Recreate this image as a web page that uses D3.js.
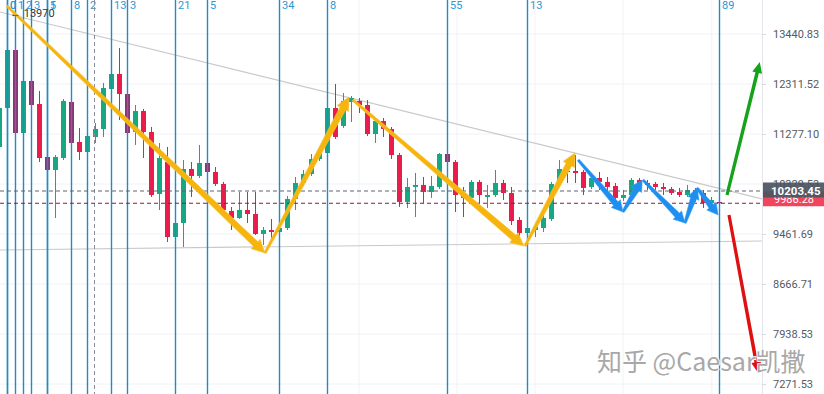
<!DOCTYPE html>
<html>
<head>
<meta charset="utf-8">
<script src="https://cdn.jsdelivr.net/npm/d3@7"></script>
<style>
  html, body { margin: 0; padding: 0; background: #fff; }
  svg { display: block; font-family: Roboto, "Noto Sans", sans-serif; }
</style>
</head>
<body>
<svg id="chart" width="824" height="394"></svg>
<script>
// candle data, first candle is bar index -1
const firstBar = -1;
const opens = [11023, 11804, 13069, 11297, 12377, 11887, 10831, 10587, 10812, 11929, 11120, 10926, 11218, 11377, 12204, 12530, 12097, 11317, 11742, 11317, 10150, 10737, 9412, 9646, 10605, 10476, 10718, 10550, 10330, 9852, 9731, 9869, 9800, 9462, 9528, 9495, 9562, 10062, 10348, 10513, 10793, 10907, 11804, 11437, 11929, 11950, 11866, 11277, 11537, 11377, 10869, 10009, 10276, 10312, 10186, 10276, 10888, 10737, 10168, 10080, 10367, 10097, 10132, 10348, 10168, 9697, 9478, 9528, 9562, 9714, 10348, 10568, 10568, 10550, 10276, 10439, 10367, 10294, 10080, 10132, 10403, 10348, 10330, 10276, 10240, 10186, 10132, 10222, 10168, 9991, 10009];
const highs = [11845, 13160, 13115, 12421, 12421, 12162, 10869, 10869, 11991, 11970, 11397, 11317, 11497, 12334, 12575, 13115, 12140, 11866, 11783, 11417, 11101, 11023, 9680, 10774, 10737, 11062, 10755, 10643, 10367, 9921, 10186, 10186, 10186, 9579, 9714, 9595, 10115, 10458, 10587, 10888, 11023, 11845, 12312, 12118, 12055, 12012, 11970, 11598, 11598, 11417, 10907, 10439, 10531, 10458, 10476, 10907, 10926, 10774, 10276, 10403, 10403, 10312, 10587, 10403, 10276, 9748, 9595, 9629, 9817, 10367, 10774, 10718, 10869, 10587, 10476, 10550, 10458, 10348, 10222, 10439, 10439, 10403, 10367, 10348, 10276, 10258, 10312, 10258, 10222, 10097, 10027];
const lows = [10965, 11763, 11258, 11258, 11825, 10737, 10550, 9731, 10774, 11062, 10774, 10888, 11101, 11218, 12162, 11558, 11258, 11062, 10812, 10097, 9869, 9330, 9363, 9248, 10097, 10439, 10513, 10294, 9835, 9528, 9714, 9646, 9445, 9281, 9396, 9462, 9528, 9869, 10294, 10476, 10755, 10869, 11179, 11397, 11517, 11700, 11238, 11101, 11218, 10793, 9921, 9904, 9748, 9991, 10080, 10240, 10699, 9835, 9748, 10044, 9991, 9904, 10097, 10044, 9612, 9428, 9428, 9412, 9495, 9680, 10312, 10348, 10348, 10132, 10240, 10222, 10168, 10009, 10027, 10097, 10222, 10222, 10222, 10132, 10132, 10097, 10097, 10009, 9904, 9956, 9956];
const closes = [11804, 13069, 11297, 12377, 11866, 10812, 10587, 10831, 11950, 11101, 10926, 11238, 11377, 12225, 12530, 12097, 11297, 11742, 11317, 10132, 10812, 9412, 9646, 10605, 10476, 10718, 10550, 10330, 9869, 9731, 9869, 9800, 9462, 9528, 9495, 9562, 10062, 10348, 10513, 10793, 10907, 11804, 11218, 11950, 12012, 11866, 11277, 11537, 11377, 10869, 10009, 10276, 10312, 10186, 10294, 10888, 10737, 10132, 10080, 10367, 10132, 10132, 10348, 10168, 9680, 9478, 9562, 9579, 9731, 10330, 10605, 10550, 10531, 10258, 10439, 10367, 10276, 10080, 10132, 10403, 10348, 10312, 10276, 10240, 10168, 10132, 10222, 10080, 9991, 10044, 9986.28];

const priceTicks = [13440.83, 12311.52, 11277.10, 10329.53, 9461.69, 8666.71, 7938.53, 7271.53];
const fibLevels = [0, 1, 2, 3, 5, 8, 13, 21, 34, 55, 89];
const fibLevelsWide = [0, 1, 2, 3, 5, 8, 13];
const fibStartBar = 0;
const fibUnitWide = 5;
const vGridBars = [44, 56.25, 66, 77, 88.1];
const crossBar = 11;
const lastPrice = 10203.45;
const markPrice = 9986.28;
const highMark = 13970;

// drawings: [bar1, price1, bar2, price2]
const trendLines = [[-0.875, 13971, 94.375, 10062], [-0.875, 9200, 94.375, 9346]];
const yellowArrows = [[0, 14118, 32.25, 9151], [32.25, 9151, 42.75, 12033], [43.25, 11970, 64.6, 9264], [64.75, 9264, 71, 10907]];
const blueArrows = [[71.4, 10774, 77, 9835], [77, 9835, 79.4, 10403], [79.5, 10403, 84.75, 9646], [84.75, 9646, 86.25, 10258], [86.25, 10258, 88.9, 9783]];
const greenArrow = [90, 10132, 94.1, 12797];
const redArrow = [90.25, 9783, 93.9, 7413];

const W = 824, H = 394, plotRight = 762;
const upColor = "#17a883", downColor = "#ea1c4c", onLineDown = "#a5286a";
const fibColor = "#1f8cc4";

const svg = d3.select("#chart");
const x = d3.scaleLinear().domain([0, 94.375]).range([7, plotRight]);
const y = d3.scaleLog().domain([7271.53, 13440.83]).range([384, 34]);

svg.append("defs").append("clipPath").attr("id", "plot")
  .append("rect").attr("x", 0).attr("y", 0).attr("width", plotRight).attr("height", H);

const plot = svg.append("g").attr("clip-path", "url(#plot)");

// grid
plot.selectAll(".hgrid").data(priceTicks).join("line")
  .attr("x1", 0).attr("x2", plotRight)
  .attr("y1", d => y(d)).attr("y2", d => y(d))
  .attr("stroke", "#f0f2f6").attr("stroke-width", 1);
plot.selectAll(".vgrid").data(vGridBars).join("line")
  .attr("x1", d => x(d)).attr("x2", d => x(d))
  .attr("y1", 0).attr("y2", H)
  .attr("stroke", "#f0f2f6").attr("stroke-width", 1);

// trend lines
plot.selectAll(".trend").data(trendLines).join("line")
  .attr("x1", d => x(d[0])).attr("y1", d => y(d[1]))
  .attr("x2", d => x(d[2])).attr("y2", d => y(d[3]))
  .attr("stroke", "#c9c9c9").attr("stroke-width", 1.2);

// candles
const candles = opens.map((o, i) => ({
  bar: firstBar + i, open: o, high: highs[i], low: lows[i], close: closes[i]
}));
const fibBars = new Set(fibLevels.map(l => fibStartBar + l)
  .concat(fibLevelsWide.map(l => fibStartBar + l * fibUnitWide)));
const candleColor = d => {
  if (d.close >= d.open) return upColor;
  return fibBars.has(d.bar) ? onLineDown : downColor;
};

const cg = plot.append("g");
cg.selectAll(".wick").data(candles).join("line")
  .attr("x1", d => x(d.bar) + 0.5).attr("x2", d => x(d.bar) + 0.5)
  .attr("y1", d => y(d.high)).attr("y2", d => y(d.low))
  .attr("stroke", candleColor).attr("stroke-width", 1);
cg.selectAll(".body").data(candles).join("rect")
  .attr("x", d => x(d.bar) - 2)
  .attr("width", 5)
  .attr("y", d => y(Math.max(d.open, d.close)))
  .attr("height", d => Math.max(1, Math.abs(y(d.open) - y(d.close))))
  .attr("fill", candleColor);

// fib time zones
const fibAll = fibLevels.map(l => ({ level: l, bar: fibStartBar + l }))
  .concat(fibLevelsWide.map(l => ({ level: l, bar: fibStartBar + l * fibUnitWide })));
plot.selectAll(".fib").data(fibAll).join("line")
  .attr("x1", d => x(d.bar) + 0.5).attr("x2", d => x(d.bar) + 0.5)
  .attr("y1", 0).attr("y2", H)
  .attr("stroke", fibColor).attr("stroke-width", 1.4);
plot.selectAll(".fibLabel").data(fibAll).join("text")
  .attr("x", d => x(d.bar) + 3).attr("y", 9)
  .attr("font-size", 11).attr("fill", "#2d97d2")
  .text(d => d.level);

// crosshair vertical
plot.append("line")
  .attr("x1", x(crossBar) - 0.5).attr("x2", x(crossBar) - 0.5)
  .attr("y1", 0).attr("y2", H)
  .attr("stroke", "#8a8e99").attr("stroke-width", 1)
  .attr("stroke-dasharray", "4,3");

// price lines
plot.append("line")
  .attr("x1", 0).attr("x2", plotRight)
  .attr("y1", y(lastPrice)).attr("y2", y(lastPrice))
  .attr("stroke", "#5d6470").attr("stroke-width", 1).attr("stroke-dasharray", "4,3");
plot.append("line")
  .attr("x1", 0).attr("x2", plotRight)
  .attr("y1", y(markPrice)).attr("y2", y(markPrice))
  .attr("stroke", "#8d1a3c").attr("stroke-width", 1).attr("stroke-dasharray", "4,3");

// arrows as tapered polygons
function arrowPath(d, tw, sw, hw, hl) {
  const x1 = x(d[0]), y1 = y(d[1]), x2 = x(d[2]), y2 = y(d[3]);
  const len = Math.hypot(x2 - x1, y2 - y1);
  const ux = (x2 - x1) / len, uy = (y2 - y1) / len;
  const nx = -uy, ny = ux;
  const bx = x2 - ux * hl, by = y2 - uy * hl;
  const pts = [
    [x1 + nx * tw, y1 + ny * tw],
    [bx + nx * sw, by + ny * sw],
    [bx + nx * hw, by + ny * hw],
    [x2, y2],
    [bx - nx * hw, by - ny * hw],
    [bx - nx * sw, by - ny * sw],
    [x1 - nx * tw, y1 - ny * tw]
  ];
  return "M" + pts.map(p => p.join(",")).join("L") + "Z";
}
plot.selectAll(".yArrow").data(yellowArrows).join("path")
  .attr("d", d => arrowPath(d, 1.2, 3.2, 6.5, 13))
  .attr("fill", "#f6b50e").attr("stroke", "#f8c33a").attr("stroke-width", 0.6);
plot.selectAll(".bArrow").data(blueArrows).join("path")
  .attr("d", d => arrowPath(d, 1.2, 3, 6, 11))
  .attr("fill", "#1e8ff0").attr("stroke", "#3a9ef2").attr("stroke-width", 0.5);
plot.append("path").attr("d", arrowPath(greenArrow, 1.6, 1.8, 5, 11))
  .attr("fill", "#16a31b");
plot.append("path").attr("d", arrowPath(redArrow, 1.6, 1.8, 5, 11))
  .attr("fill", "#df1010");

// high marker
svg.append("text").attr("x", 10).attr("y", 17)
  .attr("font-size", 11).attr("fill", "#333")
  .text("\u2190 " + highMark);

// price axis
svg.append("line").attr("x1", plotRight + 0.5).attr("x2", plotRight + 0.5)
  .attr("y1", 0).attr("y2", H).attr("stroke", "#e3e5ea");
const axis = svg.append("g").attr("transform", `translate(${plotRight},0)`)
  .call(d3.axisRight(y).tickValues(priceTicks).tickSize(4).tickPadding(7)
    .tickFormat(d3.format(".2f")));
axis.select(".domain").remove();
axis.selectAll(".tick line").attr("stroke", "#d8dbe2");
axis.selectAll(".tick text").attr("fill", "#555a63").attr("font-size", 11)
  .attr("font-family", "Roboto, sans-serif");

// last value labels
const markY = y(markPrice);
svg.append("rect").attr("x", plotRight + 1).attr("y", markY - 12).attr("width", W - plotRight)
  .attr("height", 15).attr("fill", "#f0455d");
svg.append("text").attr("x", plotRight + 12).attr("y", markY - 0.5)
  .attr("font-size", 11).attr("fill", "#fff").text(d3.format(".2f")(markPrice));
const lastY = y(lastPrice);
svg.append("rect").attr("x", plotRight + 1).attr("y", lastY - 8.5).attr("width", W - plotRight)
  .attr("height", 15).attr("fill", "#4b5561").attr("opacity", 0.93);
svg.append("text").attr("x", plotRight + 9).attr("y", lastY + 3.5)
  .attr("font-size", 11.5).attr("font-weight", "bold").attr("fill", "#fff")
  .text(d3.format(".2f")(lastPrice));

// watermark
svg.append("text").attr("x", 597).attr("y", 371)
  .attr("font-size", 25).attr("fill", "#a8a8a8")
  .attr("stroke", "#fff").attr("stroke-width", 1.5).attr("paint-order", "stroke")
  .attr("font-family", "'Noto Sans CJK SC', 'Noto Sans', sans-serif")
  .text("知乎 @Caesar凯撒");
</script>
</body>
</html>
